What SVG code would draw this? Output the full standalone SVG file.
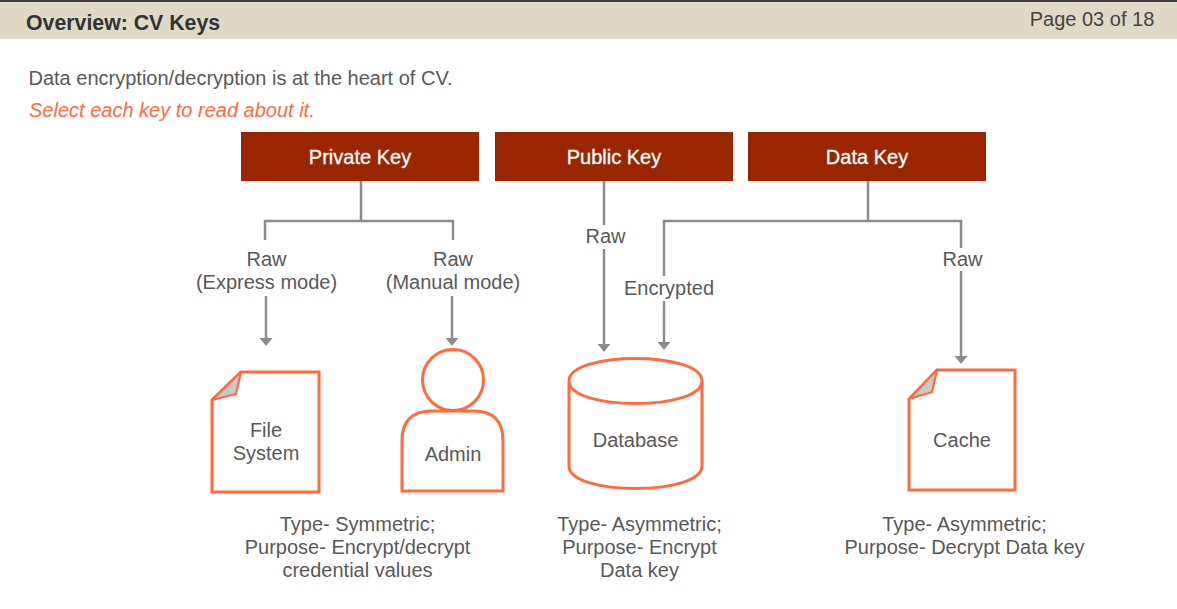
<svg xmlns="http://www.w3.org/2000/svg" width="1177" height="609" viewBox="0 0 1177 609">
<style>
text{font-family:"Liberation Sans",Arial,sans-serif;font-size:20px;fill:#595959;text-anchor:middle}
.l{text-anchor:start}
.key rect{fill:#992600}
.key text{fill:#fff;font-size:20px;stroke:#fff;stroke-width:.3}
.s{fill:#fff;stroke:#ff6b3d;stroke-width:3}
.c{fill:none;stroke:#8c8c8c;stroke-width:2.5}
.f{fill:#c8c8c8;stroke:#ff6b3d;stroke-width:2.2;stroke-linejoin:round}
</style>
<defs>
<marker id="a" markerUnits="userSpaceOnUse" markerWidth="8" markerHeight="14" refX="0" refY="6.500" orient="auto" viewBox="0 0 8 13"><path d="M0 0L8 6.500L0 13Z" fill="#8c8c8c"/></marker>
</defs>
<rect x="0" y="0" width="1177" height="39" fill="#dedac3"/>
<rect x="0" y="0" width="1177" height="2" fill="#3d3d3d"/>
<text class="l" x="26" y="30" style="font-weight:700;font-size:21.300px;fill:#333">Overview: CV Keys</text>
<text x="1092" y="26" style="font-size:20px;fill:#444">Page 03 of 18</text>
<text class="l" x="28.500" y="85">Data encryption/decryption is at the heart of CV.</text>
<text class="l" x="29" y="117" style="font-style:italic;fill:#ff6b3d">Select each key to read about it.</text>
<g id="connectors">
<path class="c" d="M361 181V220M265 240V221H453V240"/>
<path class="c" d="M266 296V338" marker-end="url(#a)"/>
<path class="c" d="M452 296V338" marker-end="url(#a)"/>
<path class="c" d="M604 181V225"/>
<path class="c" d="M604 249V344" marker-end="url(#a)"/>
<path class="c" d="M868 181V221M664 276V221H961V248"/>
<path class="c" d="M664 301V342" marker-end="url(#a)"/>
<path class="c" d="M961 271V356" marker-end="url(#a)"/>
<text x="266.500" y="266">Raw</text><text x="266.500" y="289">(Express mode)</text>
<text x="453" y="266">Raw</text><text x="453" y="289">(Manual mode)</text>
<text x="605.500" y="243">Raw</text>
<text x="669" y="295">Encrypted</text>
<text x="962.500" y="266">Raw</text>
</g>
<g id="private-key" class="key"><rect x="241" y="132" width="238" height="49"/><text x="360" y="164">Private Key</text></g>
<g id="public-key" class="key"><rect x="495" y="132" width="238" height="49"/><text x="614" y="164">Public Key</text></g>
<g id="data-key" class="key"><rect x="748" y="132" width="238" height="49"/><text x="867" y="164">Data Key</text></g>
<g id="file-system">
<path class="s" d="M241 372H319V492H212V400Z"/>
<path class="f" d="M241 372L236 394L212 400Z"/>
<text x="266" y="437">File</text><text x="266" y="460">System</text>
</g>
<g id="admin">
<circle class="s" cx="453" cy="380" r="30.500"/>
<path class="s" d="M402 491V441Q402 411 432 411H474Q503 411 503 441V491Z"/>
<text x="453" y="461">Admin</text>
</g>
<g id="database">
<path class="s" d="M569 381V466C569 496 702 496 702 466V381C702 351 569 351 569 381C569 411 702 411 702 381"/>
<text x="635.500" y="447">Database</text>
</g>
<g id="cache">
<path class="s" d="M937 370H1015V490H909V399Z"/>
<path class="f" d="M937 370L932 392L909 399Z"/>
<text x="962" y="447">Cache</text>
</g>
<g id="notes">
<text x="357.500" y="531">Type- Symmetric;</text><text x="357.500" y="554">Purpose- Encrypt/decrypt</text><text x="357.500" y="577">credential values</text>
<text x="639.500" y="531">Type- Asymmetric;</text><text x="639.500" y="554">Purpose- Encrypt</text><text x="639.500" y="577">Data key</text>
<text x="964.500" y="531">Type- Asymmetric;</text><text x="964.500" y="554">Purpose- Decrypt Data key</text>
</g>
</svg>
